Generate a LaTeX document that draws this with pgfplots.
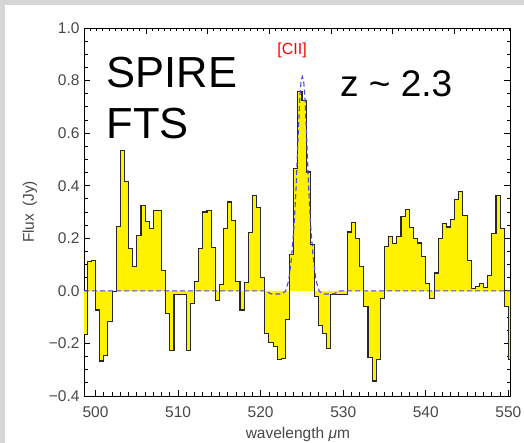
\documentclass[border=0pt]{standalone}
\usepackage{pgfplots}
\pgfplotsset{compat=1.18}
\usepackage{pgfplotstable}
\usepackage{fontspec}
\setmainfont{Liberation Sans}
\definecolor{ticklab}{RGB}{72,72,72}
\definecolor{bgband}{RGB}{214,214,214}
\definecolor{modelblue}{RGB}{70,70,235}
\definecolor{outline}{RGB}{40,40,40}

\pgfplotstableread{
x y
498.5 0
498.5 -0.166
499.0 0.110
499.5 0.115
500.0 -0.073
500.5 -0.267
501.0 -0.246
501.5 -0.115
502.0 -0.003
502.5 0.246
503.0 0.535
503.5 0.416
504.0 0.162
504.5 0.091
505.0 0.210
505.5 0.326
506.0 0.265
506.5 0.236
507.0 0.305
507.5 0.305
508.0 0.079
508.5 -0.086
509.0 -0.227
509.5 -0.013
510.0 -0.013
510.5 -0.013
511.0 -0.227
511.5 -0.048
512.0 0.037
512.5 0.161
513.0 0.300
513.5 0.305
514.0 0.166
514.5 -0.037
515.0 0.025
515.5 0.238
516.0 0.338
516.5 0.269
517.0 0.037
517.5 -0.073
518.0 0.033
518.5 0.223
519.0 0.362
519.5 0.318
520.0 0.052
520.5 -0.162
521.0 -0.198
521.5 -0.210
522.0 -0.261
522.5 -0.259
523.0 -0.109
523.5 0.137
524.0 0.464
524.5 0.757
525.0 0.725
525.5 0.452
526.0 0.176
526.5 -0.020
527.0 -0.132
527.5 -0.162
528.0 -0.220
528.5 -0.013
529.0 -0.013
529.5 -0.013
530.0 -0.013
530.5 0.224
531.0 0.261
531.5 0.199
532.0 0.094
532.5 -0.061
533.0 -0.255
533.5 -0.343
534.0 -0.261
534.5 -0.030
535.0 0.170
535.5 0.207
536.0 0.179
536.5 0.208
537.0 0.284
537.5 0.309
538.0 0.242
538.5 0.198
539.0 0.182
539.5 0.129
540.0 0.027
540.5 -0.029
541.0 0.068
541.5 0.198
542.0 0.256
542.5 0.243
543.0 0.271
543.5 0.347
544.0 0.379
544.5 0.288
545.0 0.115
545.5 0.009
546.0 0.015
546.5 0.027
547.0 0.014
547.5 0.060
548.0 0.217
548.5 0.362
549.0 0.236
549.5 -0.061
550.0 -0.261
550.5 -0.261
550.5 0
}\spectrum

\pgfplotstableread{
x y
498.6 0
520.5 0
521.3 -0.012
522.5 -0.012
523.0 -0.002
523.4 0.04
523.75 0.13
524.05 0.25
524.3 0.40
524.55 0.60
524.75 0.74
524.9 0.80
525.05 0.815
525.2 0.80
525.35 0.74
525.55 0.60
525.8 0.40
526.05 0.25
526.35 0.13
526.7 0.04
527.1 -0.002
527.6 -0.012
528.8 -0.012
529.6 0
550.2 0
}\model

\begin{document}
\begin{tikzpicture}[x=1pt,y=1pt]
\useasboundingbox (0,0) rectangle (524,443);
\fill[bgband] (0,0) rectangle (524,443);
\fill[white] (5,0) rectangle (524,438);
\begin{axis}[
  at={(84pt,47pt)}, anchor=south west,
  scale only axis, width=426pt, height=368pt,
  xmin=498.6, xmax=550.2, ymin=-0.4, ymax=1.0,
  axis line style={line width=0.9pt, black},
  xtick pos=left, ytick pos=both,
  xtick={500,510,...,550},
  xticklabels={500,510,520,530,540,550},
  minor x tick num=9,
  ytick={-0.4,-0.2,0,0.2,0.4,0.6,0.8,1.0},
  yticklabels={−0.4,−0.2,0.0,0.2,0.4,0.6,0.8,1.0},
  minor y tick num=3,
  tick align=inside,
  major tick length=6pt, minor tick length=3.5pt,
  every tick/.style={black, line width=0.8pt},
  tick label style={font=\fontsize{15.5}{18}\selectfont, text=ticklab},
  xticklabel style={yshift=-7pt},
  yticklabel style={xshift=-1pt},
  xlabel={wavelength \textit{μ}m},
  ylabel={Flux\, (Jy)},
  label style={font=\fontsize{15.5}{18}\selectfont, text=ticklab},
  xlabel style={at={(axis description cs:0.502,-0.104)}, anchor=center},
  ylabel style={at={(axis description cs:-0.127,0.5)}, anchor=center},
]
\addplot[const plot, fill=yellow, draw=none] table[x=x,y=y] {\spectrum} \closedcycle;
\addplot[const plot, draw=outline, line width=1.1pt] table[x=x,y=y] {\spectrum};
\addplot[modelblue, line width=1.1pt, dash pattern=on 5pt off 3pt] table[x=x,y=y] {\model};
\node[anchor=base west, inner sep=0pt, font=\fontsize{43.5}{48}\selectfont] at (axis cs:501.3,0.772) {SPIRE};
\node[anchor=base west, inner sep=0pt, font=\fontsize{43.5}{48}\selectfont] at (axis cs:501.3,0.578) {FTS};
\node[anchor=base west, inner sep=0pt, font=\fontsize{37}{42}\selectfont] at (axis cs:529.6,0.738) {z \char`~{} 2.3};
\node[anchor=center, inner sep=0pt, text=red, font=\fontsize{16}{18}\selectfont] at (axis cs:523.8,0.913) {[CII]};
\end{axis}
\begin{axis}[
  at={(84pt,47pt)}, anchor=south west,
  scale only axis, width=426pt, height=368pt,
  xmin=498.6, xmax=550.2, ymin=-0.4, ymax=1.0,
  axis line style={draw=none},
  xtick pos=right,
  xtick={506.1,513.57,521.04,528.51,535.98,543.45},
  minor xtick={499.38,500.127,...,550.1},
  xticklabels={},
  ytick=\empty,
  tick align=inside,
  major tick length=6pt, minor tick length=3.5pt,
  every tick/.style={black, line width=0.8pt},
]
\addplot[draw=none] coordinates {(520,0)};
\end{axis}
\end{tikzpicture}
\end{document}
